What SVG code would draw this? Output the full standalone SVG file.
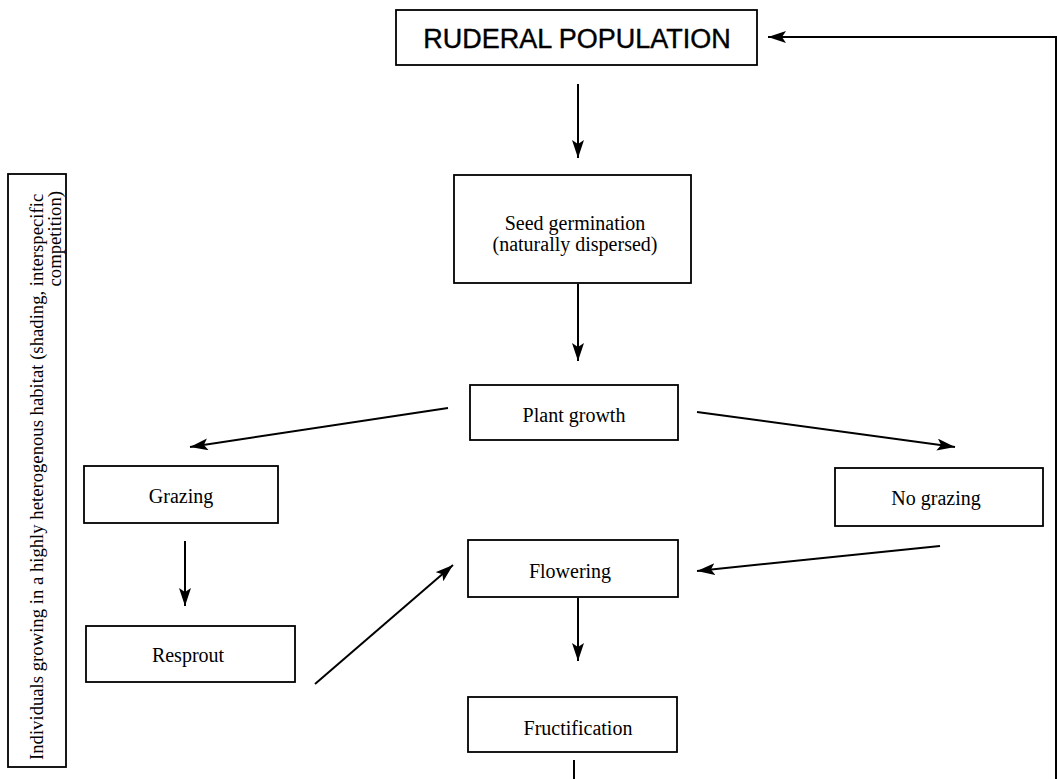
<svg xmlns="http://www.w3.org/2000/svg" width="1058" height="779" viewBox="0 0 1058 779">
<style>
.box{fill:#fff;stroke:#000;stroke-width:1.8}
.t{font-family:"Liberation Serif","Times New Roman",serif;font-size:20px;fill:#000;text-anchor:middle}
.title{font-family:"Liberation Sans",Arial,sans-serif;font-size:27px;fill:#000;text-anchor:middle;stroke:#000;stroke-width:0.4}
.side{font-family:"Liberation Serif","Times New Roman",serif;font-size:18.7px;fill:#000}
.c{fill:none;stroke:#000;stroke-width:2}
</style>
<defs>
<marker id="ah" viewBox="0 0 18 12" refX="18" refY="6" markerWidth="18" markerHeight="12" markerUnits="userSpaceOnUse" orient="auto">
<path d="M0,0 L18,6 L0,12 L4,6 Z" fill="#000"/>
</marker>
</defs>
<g id="side-note">
<rect class="box" x="8" y="174" width="58" height="593"/>
<text class="side" transform="translate(43,760) rotate(-90)">Individuals growing in a highly heterogenous habitat (shading, interspecific</text>
<text class="side" text-anchor="end" transform="translate(61,191) rotate(-90)">competition)</text>
</g>
<g id="ruderal">
<rect class="box" x="396" y="10" width="361" height="55"/>
<text class="title" x="577" y="48">RUDERAL POPULATION</text>
</g>
<g id="seed">
<rect class="box" x="454" y="175" width="237" height="108"/>
<text class="t" x="575" y="230">Seed germination</text>
<text class="t" x="575" y="251">(naturally dispersed)</text>
</g>
<g id="plant">
<rect class="box" x="470" y="385" width="208" height="55"/>
<text class="t" x="574" y="422">Plant growth</text>
</g>
<g id="grazing">
<rect class="box" x="84" y="466" width="194" height="57"/>
<text class="t" x="181" y="503">Grazing</text>
</g>
<g id="nograzing">
<rect class="box" x="835" y="468" width="208" height="58"/>
<text class="t" x="936" y="505">No grazing</text>
</g>
<g id="flowering">
<rect class="box" x="468" y="540" width="210" height="57"/>
<text class="t" x="570" y="578">Flowering</text>
</g>
<g id="resprout">
<rect class="box" x="86" y="626" width="209" height="56"/>
<text class="t" x="188" y="662">Resprout</text>
</g>
<g id="fructification">
<rect class="box" x="468" y="697" width="209" height="55"/>
<text class="t" x="578" y="735">Fructification</text>
</g>
<g id="connectors">
<line class="c" x1="578" y1="84" x2="578" y2="158" marker-end="url(#ah)"/>
<line class="c" x1="578" y1="284" x2="578" y2="361" marker-end="url(#ah)"/>
<line class="c" x1="448" y1="408" x2="190" y2="447" marker-end="url(#ah)"/>
<line class="c" x1="697" y1="412" x2="955" y2="447" marker-end="url(#ah)"/>
<line class="c" x1="185" y1="541" x2="185" y2="606" marker-end="url(#ah)"/>
<line class="c" x1="315" y1="684" x2="453" y2="565" marker-end="url(#ah)"/>
<line class="c" x1="940" y1="546" x2="697" y2="571" marker-end="url(#ah)"/>
<line class="c" x1="578" y1="598" x2="578" y2="661" marker-end="url(#ah)"/>
<line class="c" x1="574" y1="760" x2="574" y2="779"/>
<polyline class="c" points="1056,779 1056,37 768,37" marker-end="url(#ah)"/>
</g>
</svg>
